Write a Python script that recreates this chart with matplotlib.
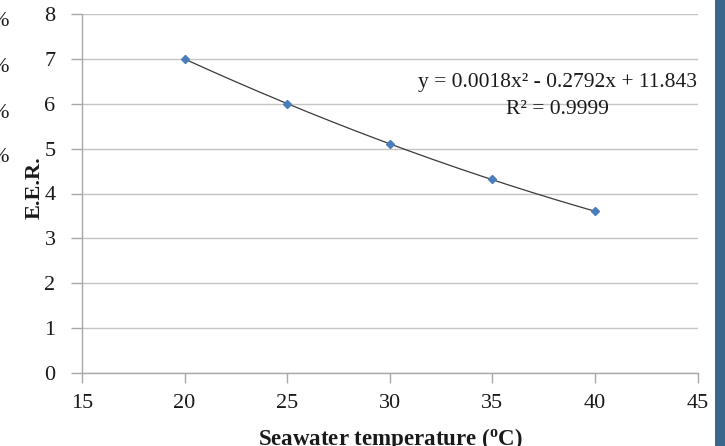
import numpy as np
import matplotlib
matplotlib.use("Agg")
import matplotlib.pyplot as plt
from matplotlib.patches import Rectangle

# ---- data ----
temps = [20, 25, 30, 35, 40]
eer = [7.0, 6.0, 5.1, 4.32, 3.6]
x_ticks = [15, 20, 25, 30, 35, 40, 45]
y_ticks = [0, 1, 2, 3, 4, 5, 6, 7, 8]
eq_text = "y = 0.0018x² - 0.2792x + 11.843"
r2_text = "R² = 0.9999"
x_label = r"Seawater temperature ($\mathbf{^{o}}$C)"
y_label = "E.E.R."

plt.rcParams["font.family"] = ["Liberation Serif", "DejaVu Serif"]
plt.rcParams["mathtext.fontset"] = "custom"
plt.rcParams["mathtext.rm"] = "Liberation Serif"
plt.rcParams["mathtext.bf"] = "Liberation Serif:bold"

W, H = 725, 446
fig = plt.figure(figsize=(W / 100, H / 100), dpi=100)
L, R, T, B = 82, 697.5, 14, 373
ax = fig.add_axes([L / W, 1 - B / H, (R - L) / W, (B - T) / H])

# trendline (2nd-order polynomial fitted to the points)
coef = np.polyfit(temps, eer, 2)
xs = np.linspace(min(temps), max(temps), 200)
ax.plot(xs, np.polyval(coef, xs), color="#3a3a3a", lw=0.9, zorder=3)
ax.plot(temps, eer, linestyle="none", marker="D", markersize=4.2,
        color="#4a7ebb", zorder=4)

ax.set_xlim(15, 45)
ax.set_ylim(0, 8)
ax.set_xticks(x_ticks)
ax.set_yticks(y_ticks)
ax.yaxis.grid(True, color="#c4c4c4", lw=1.0)
ax.set_axisbelow(True)
for s in ["top", "right"]:
    ax.spines[s].set_visible(False)
for s in ["left", "bottom"]:
    ax.spines[s].set_color("#a8a8a8")
    ax.spines[s].set_linewidth(1.0)
ax.tick_params(axis="both", colors="#a8a8a8", labelcolor="#1a1a1a",
               labelsize=16, direction="out", width=1.0)
ax.tick_params(axis="y", length=8, pad=11)
ax.tick_params(axis="x", length=7, pad=8)

ax.set_xlabel(x_label, fontsize=16.5, fontweight="bold", color="#1a1a1a")
ax.xaxis.set_label_coords((390 - L) / (R - L), (B - 426) / (B - T))
ax.set_ylabel(y_label, fontsize=16, fontweight="bold", color="#1a1a1a")
ax.yaxis.set_label_coords((45 - L) / (R - L), (B - 188) / (B - T))

# trendline equation and R²
fig.text(557 / W, 1 - 82 / H, eq_text, fontsize=15.5, ha="center",
         va="center", color="#1a1a1a")
fig.text(557 / W, 1 - 109 / H, r2_text, fontsize=15.5, ha="center",
         va="center", color="#1a1a1a")

# cropped neighbouring content on the left edge
for yp in [22, 68, 113, 158]:
    fig.text(9 / W, 1 - yp / H, "%", fontsize=16, ha="right", va="center",
             color="#1a1a1a")

# dark blue strip on the right edge
fig.patches.append(Rectangle((715 / W, 0), 10 / W, 1, transform=fig.transFigure,
                             facecolor="#3b678c", edgecolor="none", zorder=0))

fig.savefig("out.png", dpi=100)
